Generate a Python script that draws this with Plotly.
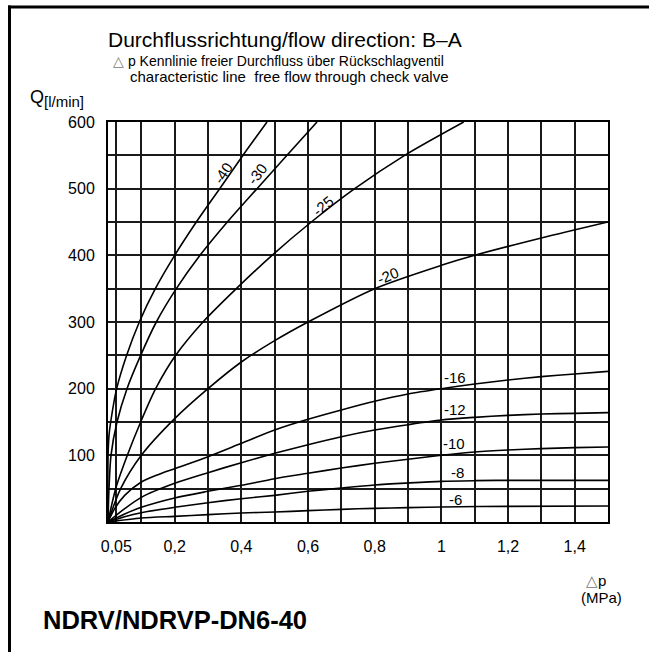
import plotly.graph_objects as go

# ---- data ----
dp_40 = [0, 0, 0.003, 0.008, 0.026, 0.056, 0.094, 0.142, 0.2, 0.265, 0.335, 0.405, 0.477]
q_40 = [0, 95, 130, 150, 200, 250, 300, 350, 400, 450, 500, 550, 600]

dp_30 = [0, 0.003, 0.009, 0.027, 0.057, 0.098, 0.145, 0.205, 0.276, 0.358, 0.447, 0.537, 0.627]
q_30 = [0, 50, 100, 150, 200, 250, 300, 350, 400, 450, 500, 550, 600]

dp_25 = [0, 0.023, 0.058, 0.098, 0.143, 0.203, 0.285, 0.385, 0.492, 0.61, 0.74, 0.89, 1.067]
q_25 = [0, 50, 100, 150, 200, 250, 300, 350, 400, 450, 500, 550, 600]

dp_20 = [0, 0.038, 0.1, 0.2, 0.3, 0.4, 0.5, 0.6, 0.8, 1.0, 1.1, 1.3, 1.5]
q_20 = [0, 50, 100, 155, 200, 240, 272, 300, 350, 385, 400, 426, 450]

dp_16 = [0, 0.02, 0.05, 0.1, 0.15, 0.2, 0.3, 0.4, 0.5, 0.6, 0.7, 0.8, 0.9, 1.0, 1.1, 1.2, 1.3, 1.4, 1.5]
q_16 = [0, 20, 40, 60, 71, 80, 98, 118, 138, 154, 168, 181, 192, 200, 207, 213, 218, 222, 226]

dp_12 = [0, 0.05, 0.1, 0.2, 0.3, 0.4, 0.5, 0.6, 0.7, 0.8, 0.9, 1.0, 1.1, 1.2, 1.3, 1.4, 1.5]
q_12 = [0, 20, 37, 58, 74, 89, 103, 116, 128, 138, 146, 153, 157, 160, 162, 163, 164]

dp_10 = [0, 0.05, 0.1, 0.2, 0.3, 0.4, 0.5, 0.6, 0.7, 0.8, 0.9, 1.0, 1.1, 1.2, 1.3, 1.4, 1.5]
q_10 = [0, 12, 22, 36, 46, 55, 65, 73, 81, 88, 94, 100, 105, 108, 110, 111.5, 112.5]

dp_8 = [0, 0.05, 0.1, 0.2, 0.3, 0.4, 0.5, 0.6, 0.7, 0.8, 0.9, 1.0, 1.1, 1.2, 1.5]
q_8 = [0, 8, 14, 22, 29, 35, 40, 46, 51, 55.5, 58.5, 61, 62, 62.5, 62.5]

dp_6 = [0, 0.1, 0.2, 0.3, 0.4, 0.5, 0.6, 0.7, 0.8, 0.9, 1.0, 1.2, 1.5]
q_6 = [0, 6, 8.5, 11, 13.5, 15, 17, 19, 20.5, 21.5, 22.5, 23.5, 24]

series = [
    ("-40", dp_40, q_40), ("-30", dp_30, q_30), ("-25", dp_25, q_25),
    ("-20", dp_20, q_20), ("-16", dp_16, q_16), ("-12", dp_12, q_12),
    ("-10", dp_10, q_10), ("-8", dp_8, q_8), ("-6", dp_6, q_6),
]

# curve labels: text, x, y, angle
label_text = ["-40", "-30", "-25", "-20", "-16", "-12", "-10", "-8", "-6"]
label_x = [0.346, 0.448, 0.646, 0.841, 1.042, 1.042, 1.039, 1.048, 1.042]
label_y = [524, 523, 475, 370, 217, 169, 118, 74.5, 34]
label_angle = [-57, -52, -40, -22, 0, 0, 0, 0, 0]

x_tickvals = [0.025, 0.2, 0.4, 0.6, 0.8, 1.0, 1.2, 1.4]
x_ticktext = ["0,05", "0,2", "0,4", "0,6", "0,8", "1", "1,2", "1,4"]
y_tickvals = [100, 200, 300, 400, 500, 600]

FONT = "Liberation Sans, Arial, sans-serif"

fig = go.Figure()
for name, xs, ys in series:
    fig.add_trace(go.Scatter(x=xs, y=ys, mode="lines", name=name,
                             line=dict(color="black", width=1.6, shape="spline", smoothing=0.8),
                             hoverinfo="skip", showlegend=False))

for t, x, y, a in zip(label_text, label_x, label_y, label_angle):
    fig.add_annotation(x=x, y=y, text=t, showarrow=False, textangle=a,
                       font=dict(family=FONT, size=15, color="black"))

L, R, T, B = 108, 41, 122, 130
W, H = 649, 652
pw, ph = W - L - R, H - T - B


def px(xp):
    return (xp - L) / pw


def py(yp):
    return (H - B - yp) / ph


# texts
fig.add_annotation(xref="paper", yref="paper", x=px(106), y=py(40), xanchor="left", yanchor="middle",
                   text="Durchflussrichtung/flow direction: B\u2013A", showarrow=False,
                   font=dict(family=FONT, size=21, color="black"))
fig.add_annotation(xref="paper", yref="paper", x=px(111), y=py(61), xanchor="left", yanchor="middle",
                   text="<span style='color:#777'>\u25b3</span> p Kennlinie freier Durchfluss \u00fcber R\u00fcckschlagventil",
                   showarrow=False, font=dict(family=FONT, size=14, color="black"))
fig.add_annotation(xref="paper", yref="paper", x=px(128), y=py(77), xanchor="left", yanchor="middle",
                   text="characteristic line  free flow through check valve", showarrow=False,
                   font=dict(family=FONT, size=15, color="black"))
fig.add_annotation(xref="paper", yref="paper", x=px(28), y=py(99), xanchor="left", yanchor="middle",
                   text="Q<sub><span style='font-size:15px'>[l/min]</span></sub>", showarrow=False,
                   font=dict(family=FONT, size=18, color="black"))
fig.add_annotation(xref="paper", yref="paper", x=px(584), y=py(580), xanchor="left", yanchor="middle",
                   text="<span style='color:#777'>\u25b3</span>p", showarrow=False,
                   font=dict(family=FONT, size=15, color="black"))
fig.add_annotation(xref="paper", yref="paper", x=px(579), y=py(597), xanchor="left", yanchor="middle",
                   text="(MPa)", showarrow=False,
                   font=dict(family=FONT, size=15, color="black"))
fig.add_annotation(xref="paper", yref="paper", x=px(41), y=py(620), xanchor="left", yanchor="middle",
                   text="<b>NDRV/NDRVP-DN6-40</b>", showarrow=False,
                   font=dict(family=FONT, size=25.5, color="black"))

# frame lines
fig.add_shape(type="line", xref="paper", yref="paper", x0=px(8), x1=px(660), y0=py(7), y1=py(7),
              line=dict(color="black", width=3))
fig.add_shape(type="line", xref="paper", yref="paper", x0=px(9.5), x1=px(9.5), y0=py(5.5), y1=py(660),
              line=dict(color="black", width=3))

fig.update_xaxes(range=[0, 1.5], showgrid=True, gridcolor="#1a1a1a", gridwidth=1.6,
                 tickmode="array", tickvals=x_tickvals, ticktext=x_ticktext,
                 ticks="", ticklabelstandoff=9,
                 tickfont=dict(family=FONT, size=16, color="black"),
                 minor=dict(dtick=0.1, tick0=0, showgrid=True, gridcolor="#1a1a1a", gridwidth=1.6),
                 showline=True, linecolor="black", linewidth=2, mirror=True, zeroline=False)
fig.update_yaxes(range=[0, 600], showgrid=True, gridcolor="#1a1a1a", gridwidth=1.6,
                 tickmode="array", tickvals=y_tickvals, ticks="", ticklabelstandoff=8,
                 tickfont=dict(family=FONT, size=16, color="black"),
                 minor=dict(dtick=50, tick0=0, showgrid=True, gridcolor="#1a1a1a", gridwidth=1.6),
                 showline=True, linecolor="black", linewidth=2, mirror=True, zeroline=False)

fig.update_layout(width=W, height=H, margin=dict(l=L, r=R, t=T, b=B),
                  paper_bgcolor="white", plot_bgcolor="white", showlegend=False)

fig.write_html("out.html", config={"displayModeBar": False},
               post_script="document.body.style.margin='0px';document.body.style.overflow='hidden';")
